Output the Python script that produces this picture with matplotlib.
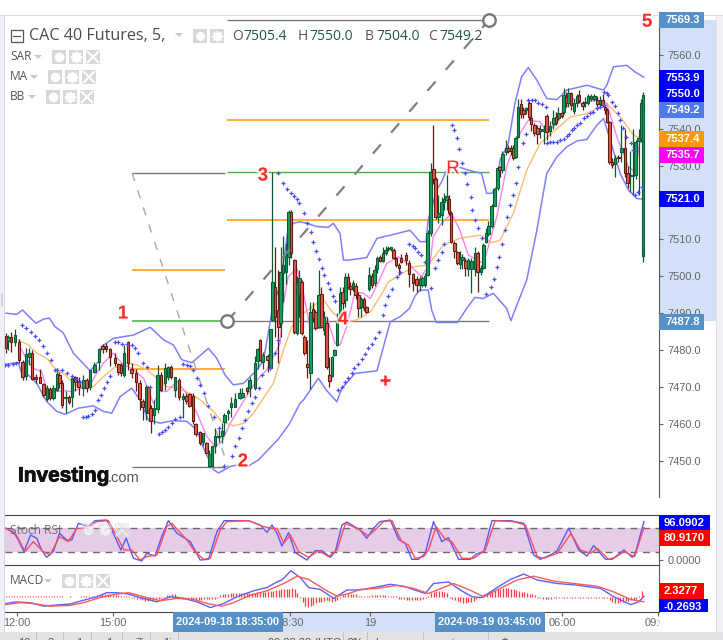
"""CAC 40 Futures 5 minute chart with SAR, MA, BB, Stoch RSI and MACD panes."""

import matplotlib
matplotlib.use("Agg")
import matplotlib.patheffects as pe
import matplotlib.pyplot as plt
import numpy as np
from matplotlib.patches import Polygon, Rectangle

plt.rcParams["font.family"] = ["Liberation Sans", "DejaVu Sans"]

# candles: bar number on the session axis (12:00 is bar 0), open, high, low, close
bar_no = [
    -4.2, -3.2, -2.2, -0.8, 0.7, 2.1, 3.4, 4.6, 5.7, 7.0,
    8.6, 9.9, 11.2, 12.4, 13.6, 14.9, 15.9, 16.9, 18.2, 19.5,
    20.6, 21.9, 23.1, 24.9, 26.1, 27.4, 29.0, 30.7, 32.1, 33.4,
    34.9, 36.7, 38.0, 38.9, 40.1, 41.6, 42.9, 44.6, 45.9, 47.1,
    48.4, 49.2, 50.1, 51.4, 52.7, 53.9, 55.5, 56.5, 57.6, 59.1,
    60.6, 62.1, 63.4, 64.6, 65.9, 66.9, 68.6, 69.6, 70.9, 72.1,
    73.1, 74.2, 75.5, 76.7, 77.7, 79.0, 80.2, 81.7, 83.4, 84.4,
    86.1, 87.1, 89.1, 90.1, 91.1, 92.0, 93.9, 94.9, 95.6, 96.7,
    97.9, 98.7, 99.7, 100.7, 101.7, 102.6, 103.9, 104.8, 105.8, 106.6,
    107.6, 108.8, 109.9, 110.8, 111.8, 113.0, 114.0, 115.0, 116.0, 117.0,
    117.9, 118.9, 119.9, 120.9, 122.0, 123.0, 123.9, 124.9, 125.9, 126.8,
    127.9, 128.9, 129.9, 130.9, 131.9, 132.9, 133.9, 134.9, 135.9, 137.0,
    138.1, 139.1, 140.1, 141.1, 142.0, 143.0, 143.8, 145.7, 146.9, 148.4,
    149.7, 150.9, 151.8, 152.8, 153.8, 154.9, 155.9, 156.8, 157.8, 159.0,
    160.0, 160.9, 161.8, 162.5, 163.8, 164.9, 165.9, 166.8, 167.9, 169.0,
    170.2, 171.5, 172.5, 173.8, 174.7, 175.7, 176.5, 177.8, 178.8, 180.0,
    180.8, 181.8, 183.2, 184.0, 185.0, 185.9, 186.8, 187.7, 188.8, 189.7,
    190.7, 191.9, 192.5, 193.8, 194.9, 195.9, 197.2, 198.4, 199.7, 200.9,
    201.8, 202.8, 204.0, 204.7, 205.7, 206.5, 207.5, 208.7, 209.7, 210.5,
    211.8, 212.8, 213.8, 214.9, 216.2, 217.4, 218.4, 219.3, 220.3, 220.9,
    221.9, 222.9, 224.0, 225.2, 226.4, 227.8, 228.7, 229.7, 230.7, 231.7,
    232.8, 233.7, 234.5,
]
opens = [
    7483.9, 7482.5, 7483.7, 7482.3, 7482.3, 7476.9, 7472.9, 7478.2, 7479.2, 7472.7,
    7472.7, 7470.8, 7466.7, 7469.5, 7467.0, 7469.1, 7473.3, 7471.0, 7466.9, 7467.2,
    7467.2, 7472.7, 7471.7, 7469.7, 7471.9, 7470.1, 7474.2, 7476.9, 7481.2, 7481.2,
    7480.2, 7477.8, 7476.3, 7476.0, 7473.3, 7482.1, 7474.8, 7473.7, 7471.0, 7466.3,
    7463.4, 7469.9, 7464.3, 7462.5, 7464.0, 7473.3, 7471.0, 7472.8, 7475.3, 7469.1,
    7471.8, 7466.7, 7467.6, 7468.2, 7467.6, 7459.9, 7457.7, 7455.0, 7454.9, 7448.6,
    7448.7, 7453.9, 7456.4, 7456.8, 7460.4, 7462.9, 7464.6, 7464.7, 7467.0, 7467.2,
    7469.7, 7469.7, 7469.7, 7477.1, 7482.8, 7476.9, 7478.4, 7475.1, 7488.2, 7497.2,
    7490.9, 7487.3, 7500.8, 7501.3, 7505.3, 7517.5, 7504.4, 7484.6, 7494.9, 7498.5,
    7483.5, 7476.2, 7473.7, 7491.1, 7490.4, 7486.4, 7495.2, 7485.5, 7487.3, 7473.3,
    7473.0, 7478.6, 7481.4, 7488.2, 7495.8, 7493.6, 7499.9, 7497.4, 7497.0, 7497.4,
    7495.0, 7491.6, 7494.0, 7491.6, 7496.7, 7500.1, 7498.1, 7501.9, 7505.3, 7504.2,
    7506.2, 7507.3, 7507.4, 7507.1, 7504.9, 7503.1, 7505.1, 7505.8, 7503.7, 7500.6,
    7499.2, 7497.6, 7497.6, 7497.6, 7500.4, 7511.8, 7529.0, 7526.3, 7516.2, 7516.6,
    7520.2, 7520.7, 7520.9, 7517.2, 7509.1, 7506.7, 7503.3, 7504.4, 7504.2, 7501.9,
    7501.9, 7501.9, 7506.2, 7501.3, 7502.2, 7509.4, 7511.6, 7513.6, 7519.0, 7523.9,
    7529.7, 7528.8, 7533.8, 7534.7, 7534.7, 7534.9, 7532.4, 7537.8, 7546.7, 7545.2,
    7545.1, 7546.9, 7543.0, 7541.0, 7540.1, 7539.5, 7539.5, 7543.4, 7539.5, 7541.4,
    7543.2, 7543.0, 7544.3, 7544.6, 7548.7, 7547.0, 7549.7, 7544.9, 7547.0, 7549.1,
    7547.0, 7546.9, 7547.0, 7548.2, 7548.2, 7547.9, 7546.7, 7547.9, 7546.0, 7545.2,
    7541.9, 7531.0, 7530.4, 7532.4, 7533.8, 7534.7, 7528.1, 7527.2, 7527.2, 7527.4,
    7536.7, 7537.4, 7505.4,
]
highs = [
    7484.6, 7484.2, 7485.0, 7485.7, 7483.0, 7477.4, 7480.5, 7480.5, 7480.0, 7473.5,
    7474.8, 7471.1, 7470.6, 7470.0, 7470.6, 7475.1, 7474.2, 7472.0, 7468.8, 7467.8,
    7472.8, 7473.0, 7472.8, 7473.3, 7472.5, 7474.7, 7476.9, 7480.5, 7481.7, 7482.0,
    7480.5, 7479.2, 7476.6, 7476.5, 7481.4, 7482.6, 7476.5, 7475.0, 7471.9, 7466.8,
    7470.6, 7470.2, 7465.2, 7466.5, 7476.0, 7474.0, 7476.5, 7475.7, 7476.0, 7472.8,
    7472.4, 7468.3, 7468.3, 7468.5, 7468.3, 7460.2, 7458.0, 7457.5, 7455.1, 7453.0,
    7453.9, 7458.9, 7459.0, 7460.2, 7462.9, 7464.0, 7467.4, 7468.3, 7469.7, 7469.7,
    7470.0, 7472.8, 7478.3, 7480.5, 7483.0, 7479.5, 7479.0, 7485.6, 7528.3, 7508.0,
    7501.7, 7508.0, 7511.0, 7509.0, 7518.0, 7518.0, 7504.6, 7500.0, 7501.7, 7499.0,
    7484.0, 7482.7, 7493.1, 7493.1, 7491.0, 7501.7, 7497.2, 7490.7, 7489.0, 7478.2,
    7478.3, 7480.3, 7490.0, 7497.0, 7497.2, 7500.9, 7500.9, 7498.5, 7499.0, 7498.1,
    7495.8, 7494.5, 7494.5, 7492.0, 7502.6, 7501.0, 7503.0, 7505.5, 7505.8, 7508.0,
    7508.2, 7508.3, 7508.0, 7507.6, 7505.2, 7503.5, 7506.0, 7506.5, 7504.5, 7501.0,
    7500.0, 7500.0, 7500.0, 7501.0, 7512.5, 7530.6, 7541.0, 7527.0, 7522.0, 7521.5,
    7522.5, 7528.3, 7522.0, 7517.6, 7509.5, 7507.0, 7507.0, 7506.0, 7505.0, 7505.0,
    7505.0, 7508.0, 7507.0, 7503.0, 7509.0, 7513.0, 7515.0, 7519.5, 7524.0, 7530.0,
    7530.0, 7534.0, 7537.0, 7535.5, 7535.5, 7535.5, 7538.0, 7548.0, 7548.0, 7546.0,
    7546.0, 7547.5, 7543.5, 7541.5, 7541.0, 7541.0, 7541.0, 7544.0, 7542.0, 7545.0,
    7544.5, 7546.0, 7545.0, 7551.0, 7550.0, 7551.0, 7550.0, 7548.0, 7549.5, 7550.5,
    7547.5, 7548.5, 7549.5, 7549.5, 7549.5, 7549.0, 7549.0, 7549.5, 7546.5, 7545.5,
    7542.0, 7532.0, 7533.0, 7533.0, 7541.0, 7540.0, 7530.0, 7534.0, 7540.0, 7537.0,
    7540.0, 7548.0, 7550.0,
]
lows = [
    7479.2, 7480.0, 7479.4, 7481.0, 7476.5, 7472.0, 7471.9, 7476.0, 7471.8, 7471.0,
    7471.0, 7467.3, 7466.3, 7466.5, 7466.5, 7468.8, 7469.7, 7464.3, 7463.1, 7465.5,
    7464.6, 7468.8, 7467.9, 7467.6, 7468.7, 7469.2, 7473.7, 7474.7, 7479.2, 7479.5,
    7475.6, 7475.6, 7473.3, 7473.0, 7472.8, 7474.7, 7472.4, 7468.8, 7463.8, 7461.0,
    7461.1, 7463.0, 7457.5, 7460.0, 7463.0, 7469.0, 7469.2, 7472.0, 7472.2, 7467.4,
    7466.5, 7461.5, 7465.5, 7464.5, 7460.0, 7456.6, 7454.3, 7454.0, 7452.0, 7448.4,
    7448.5, 7452.0, 7455.0, 7454.8, 7457.0, 7461.0, 7462.0, 7464.5, 7466.7, 7467.0,
    7468.0, 7467.4, 7469.2, 7475.0, 7477.0, 7475.0, 7474.0, 7474.5, 7488.0, 7483.6,
    7476.4, 7483.6, 7493.0, 7498.0, 7503.0, 7505.0, 7484.5, 7484.0, 7489.1, 7484.0,
    7478.8, 7472.4, 7469.6, 7487.5, 7485.5, 7486.0, 7486.0, 7484.0, 7475.0, 7470.1,
    7472.8, 7478.3, 7481.0, 7488.0, 7491.0, 7491.8, 7496.5, 7495.0, 7496.0, 7494.0,
    7489.0, 7489.0, 7490.5, 7490.0, 7496.0, 7496.9, 7497.5, 7501.0, 7503.9, 7503.9,
    7505.8, 7506.8, 7506.8, 7504.8, 7502.5, 7500.5, 7503.5, 7503.0, 7497.0, 7496.0,
    7495.8, 7496.0, 7497.0, 7497.0, 7500.0, 7511.0, 7525.0, 7515.5, 7514.5, 7514.0,
    7518.0, 7518.0, 7516.5, 7509.0, 7505.0, 7503.0, 7502.0, 7502.0, 7500.0, 7500.0,
    7495.5, 7500.0, 7495.8, 7500.5, 7502.0, 7509.0, 7511.0, 7513.0, 7519.0, 7523.5,
    7527.0, 7528.0, 7533.0, 7533.5, 7533.0, 7531.5, 7532.0, 7537.5, 7543.0, 7543.0,
    7544.0, 7542.5, 7539.5, 7538.0, 7536.0, 7537.5, 7536.0, 7537.0, 7538.0, 7540.0,
    7541.0, 7542.5, 7543.0, 7544.0, 7546.0, 7546.0, 7545.0, 7544.0, 7546.0, 7547.0,
    7545.0, 7546.0, 7546.5, 7547.5, 7547.5, 7545.0, 7546.0, 7546.0, 7544.0, 7541.5,
    7530.5, 7529.5, 7527.0, 7531.0, 7531.0, 7527.0, 7524.0, 7523.0, 7522.0, 7526.5,
    7522.0, 7536.5, 7504.0,
]
closes = [
    7480.5, 7483.6, 7482.1, 7484.1, 7477.2, 7472.7, 7478.9, 7479.2, 7472.1, 7472.1,
    7471.2, 7467.9, 7469.7, 7467.0, 7469.7, 7473.5, 7471.2, 7465.2, 7467.2, 7466.0,
    7472.4, 7471.5, 7470.1, 7471.9, 7469.7, 7474.5, 7476.0, 7480.3, 7480.3, 7480.3,
    7478.1, 7476.5, 7474.2, 7473.8, 7479.3, 7476.5, 7473.9, 7471.5, 7466.7, 7464.7,
    7469.9, 7463.1, 7460.7, 7464.3, 7473.3, 7469.2, 7475.1, 7475.3, 7472.8, 7472.6,
    7467.3, 7467.6, 7466.1, 7464.9, 7460.7, 7457.3, 7454.8, 7457.5, 7452.1, 7451.8,
    7453.9, 7456.6, 7456.8, 7458.0, 7462.5, 7463.5, 7465.6, 7466.7, 7468.3, 7468.5,
    7468.8, 7471.8, 7476.5, 7480.3, 7477.2, 7478.7, 7477.3, 7485.6, 7498.5, 7489.1,
    7486.2, 7501.3, 7503.1, 7505.8, 7517.5, 7506.4, 7485.0, 7498.1, 7499.5, 7484.6,
    7479.1, 7475.5, 7490.4, 7488.6, 7485.9, 7494.9, 7486.4, 7489.1, 7475.5, 7471.7,
    7478.1, 7480.0, 7488.2, 7495.6, 7492.7, 7499.9, 7497.2, 7496.5, 7498.1, 7495.0,
    7491.3, 7493.8, 7491.3, 7490.4, 7500.4, 7497.6, 7501.7, 7504.9, 7504.2, 7506.2,
    7507.1, 7507.8, 7507.9, 7505.1, 7503.1, 7502.2, 7504.0, 7504.4, 7500.6, 7498.1,
    7497.6, 7499.2, 7499.5, 7500.1, 7511.8, 7528.4, 7526.3, 7516.0, 7517.1, 7520.2,
    7521.1, 7521.8, 7517.2, 7509.4, 7507.0, 7503.7, 7505.1, 7505.3, 7502.2, 7504.4,
    7504.2, 7506.4, 7501.3, 7502.4, 7508.5, 7511.8, 7513.6, 7519.0, 7523.6, 7529.5,
    7528.8, 7533.3, 7534.9, 7534.0, 7534.0, 7532.0, 7537.6, 7546.0, 7544.0, 7544.0,
    7545.5, 7543.2, 7541.3, 7538.9, 7538.7, 7539.9, 7539.9, 7539.2, 7540.7, 7543.0,
    7541.6, 7544.2, 7543.4, 7549.1, 7547.0, 7549.6, 7546.4, 7546.9, 7548.8, 7547.6,
    7546.1, 7547.3, 7548.8, 7548.8, 7548.8, 7546.7, 7547.9, 7546.4, 7545.2, 7541.9,
    7531.0, 7530.2, 7532.0, 7532.0, 7534.9, 7527.9, 7525.4, 7527.5, 7527.6, 7536.5,
    7537.4, 7546.9, 7549.2,
]

# Bollinger bands
bb_upper_bars = [
    -4.1, -0.1, 2.1, 4.2, 7.1, 9.9, 12.1, 14.2, 17.3, 21.1, 27.4, 30.5, 31.7, 36.1, 43.6,
    49.9, 54.9, 58.6, 61.7, 65.5, 71.7, 74.8, 77.9, 81.0, 84.8, 89.8, 92.3, 94.1, 96.0,
    98.5, 101.3, 103.5, 106.0, 108.5, 112.3, 116.6, 118.5, 121.0, 122.3, 124.1, 131.0,
    134.8, 142.3, 147.2, 150.9, 153.2, 154.0, 157.2, 159.0, 160.9, 165.3, 169.0, 174.0,
    175.9, 177.8, 179.7, 180.9, 184.0, 186.5, 189.0, 191.5, 194.7, 198.4, 202.2, 205.9,
    213.4, 219.7, 220.9, 223.4, 228.4, 231.5, 234.7,
]
bb_upper = [
    7490.0, 7489.7, 7490.9, 7489.3, 7487.3, 7488.4, 7488.7, 7486.4, 7484.7, 7479.2, 7474.4,
    7476.9, 7481.0, 7483.2, 7484.1, 7486.2, 7482.8, 7481.4, 7477.4, 7476.6, 7480.5, 7477.8,
    7473.3, 7470.6, 7471.0, 7474.6, 7477.3, 7484.6, 7492.7, 7497.2, 7511.6, 7514.4, 7514.8,
    7514.4, 7513.5, 7513.3, 7514.4, 7511.6, 7504.4, 7504.4, 7505.1, 7510.3, 7511.6, 7512.5,
    7509.4, 7509.4, 7515.3, 7523.4, 7525.6, 7528.8, 7529.7, 7528.8, 7527.9, 7522.5, 7522.5,
    7524.3, 7531.5, 7536.0, 7546.9, 7554.1, 7556.6, 7553.2, 7548.2, 7547.9, 7550.5, 7551.8,
    7550.5, 7551.8, 7556.8, 7557.2, 7555.4, 7554.0,
]
bb_lower_bars = [
    -4.5, 0.5, 1.7, 4.2, 7.4, 11.1, 14.9, 18.0, 23.0, 28.6, 32.4, 35.5, 38.6, 43.0, 46.1,
    49.2, 53.6, 58.6, 63.6, 67.4, 69.9, 73.6, 75.5, 79.9, 83.0, 86.7, 90.5, 98.0, 102.0,
    106.0, 107.3, 112.9, 115.8, 119.8, 121.6, 126.6, 134.8, 139.8, 143.5, 147.0, 149.0,
    150.9, 154.0, 155.3, 157.0, 165.0, 168.4, 171.5, 174.6, 178.4, 183.4, 185.0, 186.5,
    190.9, 194.7, 198.4, 202.2, 205.9, 209.7, 213.4, 217.2, 219.7, 222.2, 225.9, 229.0,
    232.2, 234.4,
]
bb_lower = [
    7476.2, 7476.6, 7473.8, 7473.3, 7471.0, 7466.1, 7463.4, 7462.6, 7464.3, 7464.9, 7463.4,
    7462.9, 7467.4, 7469.7, 7466.5, 7461.1, 7460.2, 7460.9, 7460.7, 7458.4, 7453.4, 7447.6,
    7446.7, 7448.5, 7448.9, 7448.6, 7450.3, 7456.0, 7460.0, 7465.6, 7466.5, 7472.4, 7469.2,
    7466.0, 7469.6, 7473.7, 7474.4, 7487.7, 7489.1, 7491.3, 7494.6, 7496.3, 7496.3, 7490.9,
    7487.5, 7487.5, 7491.3, 7494.3, 7494.0, 7495.4, 7491.3, 7488.0, 7490.9, 7499.0, 7512.5,
    7527.9, 7532.4, 7535.1, 7536.7, 7537.1, 7541.0, 7542.8, 7536.9, 7527.9, 7523.4, 7521.1,
    7520.9,
]

# fast (pink) and slow (orange) moving averages
ma_fast_bars = [
    1.1, 3.0, 6.1, 9.2, 11.7, 14.9, 18.0, 20.5, 24.2, 27.4, 29.9, 32.4, 36.1, 39.2, 43.6,
    47.4, 51.1, 53.6, 56.1, 59.9, 63.6, 67.4, 71.1, 74.2, 76.7, 79.9, 83.6, 87.4, 90.5,
    93.5, 98.5, 99.8, 101.6, 104.8, 107.3, 109.8, 113.5, 116.0, 119.1, 121.0, 123.5, 126.6,
    129.8, 132.3, 134.8, 138.5, 142.9, 147.2, 151.5, 154.7, 155.9, 159.0, 162.8, 165.9,
    169.0, 174.7, 176.5, 179.7, 183.4, 187.2, 191.5, 195.9, 198.4, 202.2, 205.9, 208.4,
    211.5, 217.2, 220.9, 224.7, 229.0, 231.5, 233.4,
]
ma_fast = [
    7481.0, 7478.3, 7475.1, 7474.2, 7467.9, 7468.8, 7469.0, 7468.8, 7469.7, 7470.6, 7473.8,
    7476.5, 7479.2, 7476.5, 7474.7, 7472.4, 7465.6, 7468.8, 7468.8, 7471.5, 7468.3, 7462.9,
    7456.6, 7453.9, 7455.2, 7460.2, 7464.7, 7469.2, 7472.4, 7474.6, 7481.8, 7492.7, 7499.9,
    7502.2, 7495.4, 7485.9, 7485.9, 7489.1, 7481.8, 7481.4, 7486.4, 7495.8, 7495.4, 7494.0,
    7497.6, 7503.5, 7505.3, 7503.0, 7499.9, 7503.5, 7510.7, 7514.4, 7517.0, 7512.5, 7505.8,
    7503.5, 7508.0, 7516.2, 7529.7, 7537.4, 7542.3, 7541.9, 7539.2, 7541.4, 7546.0, 7548.2,
    7546.9, 7547.8, 7546.9, 7537.8, 7529.7, 7528.3, 7536.9,
]
ma_slow_bars = [
    0.5, 4.2, 7.4, 11.1, 14.2, 18.0, 21.7, 26.1, 28.6, 31.7, 36.1, 40.5, 44.9, 48.6, 52.4,
    56.1, 59.9, 64.9, 68.6, 73.6, 76.7, 81.1, 84.9, 88.6, 91.0, 96.0, 99.8, 102.9, 107.3,
    112.3, 114.8, 118.5, 123.5, 127.3, 132.3, 136.0, 139.1, 143.5, 148.4, 154.0, 159.7,
    165.9, 173.4, 177.8, 180.9, 185.9, 190.9, 195.9, 200.9, 207.2, 213.4, 220.9, 225.9,
    230.9, 233.4,
]
ma_slow = [
    7482.8, 7481.4, 7479.2, 7477.8, 7475.1, 7473.3, 7470.6, 7470.1, 7470.1, 7472.4, 7475.1,
    7476.5, 7476.0, 7474.7, 7472.4, 7470.1, 7469.7, 7468.3, 7466.5, 7463.4, 7460.6, 7459.5,
    7460.2, 7462.9, 7465.6, 7471.0, 7480.0, 7486.4, 7490.0, 7492.7, 7493.6, 7490.0, 7487.7,
    7488.2, 7490.4, 7494.5, 7498.5, 7500.4, 7502.6, 7503.0, 7508.5, 7510.3, 7511.2, 7509.1,
    7509.8, 7517.1, 7528.8, 7536.0, 7539.2, 7543.2, 7544.1, 7546.9, 7543.2, 7538.3, 7537.4,
]

# parabolic SAR
sar_bars = [
    -4.5, -3.3, -1.6, -0.2, 1.7, 3.4, 5.1, 6.7, 8.4, 9.9, 11.4, 12.6, 14.2, 15.1, 16.7, 18.6,
    20.5, 22.1, 23.6, 24.9, 25.9, 26.7, 28.0, 29.2, 30.5, 31.4, 32.6, 33.6, 34.9, 36.7, 38.0,
    39.2, 41.1, 43.0, 44.2, 45.5, 47.1, 48.6, 49.9, 53.0, 54.2, 55.5, 56.7, 58.0, 59.2, 61.1,
    62.1, 63.6, 64.9, 66.1, 67.4, 68.6, 69.9, 71.7, 73.6, 75.5, 77.4, 80.5, 81.7, 83.0, 84.2,
    85.5, 86.7, 88.0, 89.2, 90.5, 91.6, 94.8, 96.6, 97.6, 97.9, 99.8, 101.3, 102.5, 103.8,
    104.8, 105.8, 107.6, 108.8, 110.0, 111.0, 111.9, 113.0, 114.1, 115.1, 116.3, 117.3, 118.3,
    119.1, 120.4, 121.6, 122.9, 124.1, 125.4, 126.4, 127.9, 129.1, 130.4, 131.6, 132.9, 134.1,
    135.4, 137.0, 137.9, 138.8, 140.4, 142.3, 143.3, 146.9, 148.2, 149.0, 150.3, 151.5, 152.8,
    154.9, 156.5, 157.8, 159.0, 159.9, 162.8, 163.8, 164.9, 165.7, 166.8, 167.8, 168.7, 169.9,
    170.6, 171.6, 172.8, 174.0, 175.7, 177.4, 178.8, 179.9, 180.4, 181.8, 182.9, 183.7, 184.7,
    185.9, 186.8, 187.8, 189.4, 190.7, 191.5, 193.0, 194.0, 195.3, 196.5, 198.0, 198.4, 199.7,
    200.9, 202.2, 203.4, 204.7, 205.9, 206.8, 207.8, 208.7, 209.7, 210.9, 212.2, 213.4, 214.7,
    215.9, 217.2, 218.4, 219.7, 219.7, 220.9, 221.5, 222.8, 224.0, 225.0, 225.9, 226.9, 228.0,
    229.8, 230.7, 231.5, 232.6, 234.0,
]
sar_values = [
    7476.0, 7476.0, 7476.2, 7476.6, 7486.8, 7486.0, 7485.0, 7483.9, 7482.8, 7481.0, 7479.2,
    7477.4, 7474.7, 7474.7, 7474.7, 7473.8, 7473.1, 7472.1, 7471.5, 7461.8, 7462.0, 7462.2,
    7462.6, 7463.8, 7466.5, 7467.9, 7469.7, 7471.5, 7473.0, 7482.1, 7482.1, 7481.7, 7481.7,
    7481.4, 7480.5, 7479.2, 7476.6, 7475.3, 7470.1, 7457.3, 7457.7, 7458.4, 7459.3, 7460.2,
    7461.3, 7462.0, 7476.2, 7476.0, 7475.6, 7474.7, 7472.4, 7470.6, 7468.3, 7464.9, 7462.0,
    7458.9, 7448.5, 7451.2, 7453.9, 7456.1, 7458.9, 7461.1, 7463.4, 7465.6, 7467.4, 7469.7,
    7473.3, 7475.1, 7479.1, 7482.7, 7527.9, 7525.2, 7523.6, 7522.7, 7521.8, 7520.9, 7520.0,
    7517.3, 7514.5, 7511.9, 7509.2, 7506.9, 7504.6, 7502.4, 7500.4, 7498.3, 7496.5, 7494.7,
    7493.4, 7469.2, 7470.1, 7471.5, 7472.4, 7473.7, 7475.1, 7476.2, 7477.6, 7478.9, 7480.5,
    7481.8, 7483.2, 7485.0, 7489.5, 7492.2, 7494.7, 7496.7, 7499.9, 7501.3, 7508.9, 7508.3,
    7507.6, 7506.7, 7505.8, 7504.0, 7496.9, 7502.2, 7504.4, 7506.7, 7508.9, 7541.0, 7539.6,
    7537.4, 7534.4, 7530.8, 7527.9, 7525.0, 7521.6, 7518.1, 7515.4, 7513.0, 7510.3, 7495.1,
    7497.2, 7499.4, 7502.6, 7505.3, 7508.8, 7512.7, 7516.2, 7519.3, 7522.0, 7525.2, 7529.7,
    7536.2, 7538.5, 7547.8, 7547.9, 7547.9, 7547.0, 7546.6, 7546.0, 7536.2, 7536.3, 7536.3,
    7536.5, 7536.9, 7537.1, 7538.0, 7538.6, 7539.6, 7540.1, 7541.0, 7541.6, 7542.8, 7543.4,
    7544.2, 7544.6, 7545.5, 7546.0, 7546.4, 7550.0, 7549.8, 7549.1, 7547.3, 7546.1, 7544.3,
    7542.5, 7540.1, 7537.7, 7536.1, 7534.2, 7522.0, 7522.9, 7524.2,
]

# Stoch RSI pane
stoch_k_bars = [
    -4.2, -1.4, 0.5, 2.6, 5.1, 7.4, 9.2, 11.1, 13.6, 15.9, 18.6, 20.5, 23.0, 26.7, 29.2, 33.6,
    36.1, 38.9, 40.9, 43.6, 46.7, 48.6, 51.7, 54.2, 56.7, 59.9, 64.9, 68.6, 71.7, 74.9, 77.6,
    86.7, 91.1, 93.6, 95.5, 97.4, 99.2, 101.7, 104.2, 108.6, 111.7, 114.2, 117.4, 119.2, 121.7,
    123.6, 128.5, 131.0, 133.5, 136.0, 139.8, 142.9, 145.4, 147.9, 150.4, 152.9, 156.0, 159.1,
    161.6, 165.4, 169.8, 172.0, 174.8, 177.9, 184.8, 189.8, 193.5, 196.0, 199.8, 202.3, 206.6,
    210.4, 213.5, 216.0, 220.4, 222.9, 227.3, 230.4, 231.6, 234.8,
]
stoch_k = [
    79.2, 70.9, 50.0, 20.9, 62.5, 54.2, 25.0, 6.7, 20.9, 66.7, 50.0, 50.0, 91.7, 83.4, 98.4,
    100.0, 66.7, 25.0, 54.2, 4.2, -2.4, 16.7, 10.0, 58.4, 98.4, 66.7, 45.9, 0.0, 1.7, 70.9,
    98.4, 98.4, 87.5, 69.2, 87.5, 66.7, 35.0, 68.4, 18.4, 0.0, 23.4, 23.4, 6.7, 20.9, 87.5,
    95.0, 75.0, 54.2, 79.2, 95.9, 100.0, 51.7, 41.7, 1.7, 1.7, 16.7, 95.9, 45.9, 55.9, 1.7,
    1.7, 15.0, 20.9, 98.4, 98.4, 91.7, 12.6, 1.7, 12.6, 23.4, 79.2, 25.0, 10.0, 35.9, 1.7,
    1.7, 25.0, 6.7, 16.7, 96.1,
]
stoch_d_bars = [
    -4.2, -0.2, 3.0, 6.1, 9.9, 12.4, 15.9, 19.2, 22.4, 26.1, 29.9, 34.2, 37.4, 40.1, 43.0, 46.1,
    48.6, 52.4, 56.1, 58.0, 63.6, 66.7, 69.9, 72.4, 76.1, 78.6, 86.7, 92.4, 95.5, 97.4, 99.9,
    102.4, 105.5, 109.2, 113.0, 116.7, 119.9, 123.0, 128.5, 131.6, 134.1, 137.3, 140.4, 144.1,
    146.6, 149.1, 152.3, 154.1, 157.0, 160.4, 162.9, 166.6, 171.0, 175.4, 179.1, 186.0, 190.4,
    194.8, 197.3, 202.3, 207.5, 211.0, 214.8, 217.3, 221.6, 224.1, 227.3, 231.3, 234.8,
]
stoch_d = [
    79.2, 62.5, 20.9, 45.9, 20.9, 12.6, 58.4, 45.9, 79.2, 79.2, 95.9, 98.4, 58.4, 25.0, 25.0,
    0.0, 8.4, 12.6, 83.4, 91.7, 50.0, 20.9, 1.7, 4.2, 75.0, 95.9, 98.4, 83.4, 79.2, 79.2, 41.7,
    62.5, 20.9, 6.7, 23.4, 8.4, 25.0, 91.7, 75.0, 60.0, 75.0, 95.9, 98.4, 45.9, 37.5, 4.2, 8.4,
    25.0, 83.4, 51.7, 45.9, 4.2, 4.2, 25.0, 98.4, 95.9, 87.5, 8.4, 4.2, 16.7, 66.7, 25.0, 16.7,
    29.2, 1.7, 6.7, 20.9, 8.4, 80.9,
]

# MACD pane
macd_bars = [
    -4.2, -0.2, 4.9, 9.9, 14.2, 19.9, 24.9, 29.9, 33.6, 37.4, 41.7, 46.1, 52.4, 57.4, 62.4, 67.4,
    72.4, 77.4, 82.4, 88.6, 93.6, 97.4, 99.2, 102.6, 106.1, 109.2, 113.6, 118.6, 123.6, 128.5,
    133.5, 139.8, 144.8, 152.9, 156.0, 161.6, 166.0, 170.4, 174.1, 179.8, 184.8, 189.8, 194.8,
    202.3, 209.8, 218.5, 223.5, 229.8, 232.9, 234.8,
]
macd_line = [
    -2.4, -1.8, -2.1, -3.4, -3.0, -2.6, -1.2, 0.1, 1.6, 1.6, 1.1, -0.2, -1.8, 0.1, -0.5, -1.8,
    -3.9, -2.4, 0.1, 2.3, 3.5, 5.6, 6.3, 9.7, 7.2, 3.5, 2.8, -0.5, 2.6, 2.6, 3.5, 4.7, 4.0, 1.3,
    5.0, 5.6, 2.6, 0.1, -0.2, 3.5, 6.5, 8.5, 6.3, 5.0, 4.4, 3.2, 0.1, -2.8, -1.8, 0.3,
]
signal_bars = [
    -4.2, 1.1, 6.1, 12.4, 19.9, 24.9, 31.1, 36.1, 41.7, 47.4, 53.6, 59.9, 66.1, 71.1, 76.7, 81.1,
    87.4, 93.6, 99.9, 104.9, 109.2, 115.5, 119.9, 124.3, 128.5, 134.8, 142.3, 148.5, 154.1, 163.5,
    169.1, 174.8, 181.0, 187.3, 193.5, 201.0, 208.5, 217.3, 223.5, 229.8, 234.8,
]
signal_line = [
    -2.8, -2.1, -2.4, -3.4, -3.1, -2.1, -0.2, 0.9, 1.6, 0.1, -1.4, -0.5, -0.9, -2.4, -3.4, -2.1,
    0.7, 2.3, 5.0, 7.7, 6.5, 2.6, 0.3, 1.3, 2.8, 3.2, 4.3, 3.2, 1.3, 5.0, 2.8, 0.1, 3.2, 6.3, 7.7,
    5.9, 5.0, 4.0, 1.9, -0.9, -1.8,
]
# one histogram value per bar, starting at bar -4
macd_hist = [
    0.3, 0.4, 0.3, 0.4, 0.3, 0.3, 0.2, 0.2, 0.3, 0.2,
    0.2, 0.2, 0.2, 0.3, 0.2, 0.3, 0.2, 0.3, 0.3, 0.3,
    0.3, 0.3, 0.0, 0.0, 0.3, 0.0, 0.0, 0.0, 0.3, 0.4,
    0.4, 0.4, 0.5, 0.5, 0.7, 0.8, 1.0, 1.0, 1.0, 0.9,
    0.9, 0.8, 0.6, 0.4, 0.3, 0.2, 0.2, -0.3, -0.5, -0.7,
    -0.9, -1.1, -1.3, -1.3, -1.2, -1.0, -0.8, -0.7, -0.5, -0.3,
    0.6, 0.9, 1.1, 1.0, 0.3, -0.5, -0.6, -0.7, -0.8, -0.8,
    -0.9, -1.0, -1.0, -1.0, -0.9, -0.9, -0.8, -0.7, -0.6, -0.5,
    0.8, 1.0, 1.1, 1.2, 1.3, 1.3, 1.4, 1.4, 1.3, 1.3,
    1.5, 1.6, 1.5, 1.5, 1.7, 1.8, 1.9, 2.0, 2.1, 2.3,
    2.4, 2.5, 2.7, 2.8, 2.9, 3.0, 3.1, 3.3, 3.0, 1.6,
    -0.4, -1.8, -3.2, -3.7, -3.4, -2.8, -2.4, -2.0, -1.7, -1.4,
    -1.2, -1.4, -1.8, -1.6, -1.0, -0.5, 0.6, 0.9, 1.1, 1.2,
    1.2, 1.1, 0.5, 0.4, 0.3, 0.3, 0.5, 0.6, 0.6, 0.7,
    0.7, 0.7, 0.6, 0.5, 0.3, 0.2, 0.2, -0.6, -0.8, -0.9,
    -1.0, -1.0, -1.0, -1.0, -1.0, -1.0, -0.9, -0.5, 0.3, 1.6,
    2.0, 2.4, 2.4, 2.2, 1.9, 1.5, -0.4, -0.8, -1.2, -1.6,
    -1.9, -2.1, -2.2, -2.0, -1.8, -1.3, -0.8, -0.3, 0.8, 1.2,
    1.5, 1.8, 2.2, 2.5, 2.8, 3.0, 3.3, 3.5, 3.4, 3.0,
    2.8, 2.6, 2.3, 2.0, 1.7, 1.4, 1.2, 1.0, 0.7, -0.3,
    -0.5, -0.6, -0.6, -0.6, -0.6, -0.5, -0.5, -0.5, -0.4, -0.4,
    -0.4, -0.3, -0.3, -0.3, -0.3, -0.3, -0.2, -0.2, -0.2, -0.2,
    -0.2, -0.2, -0.2, -0.2, -0.2, -0.4, -1.2, -1.8, -2.2, -2.2,
    -2.0, -1.8, -1.6, -1.4, -1.2, -1.1, -0.9, 0.3, 2.33,
]

# drawing tools, in bars and prices
fib_left_span = (43.1, 77.9)
fib_right_span = (78.7, 176.8)
fib_left_grey = [7528.0, 7448.4]
fib_left_orange = [7501.7, 7474.9]
fib_right_orange = [7542.3, 7515.3]
fib_right_green = 7528.3
fib_right_grey = [7569.5, 7487.8]
fib_mid_level = 7488.0
swing_up = ([78.7, 176.8], [7487.8, 7569.5])
swing_down = ([43.1, 79.0], [7528.0, 7448.4])
wave_labels = ["1", "2", "3", "4", "5", "R"]
wave_bars = [39.7, 84.6, 92.1, 122.1, 236.0, 163.3]
wave_prices = [7489.8, 7449.7, 7527.2, 7488.2, 7568.9, 7529.1]

price_ticks = list(range(7450, 7561, 10))
hidden_ticks = [7520, 7550]
time_tick_bars = [0, 36, 102.2, 132.3, 204.1, 240.2]
time_tick_labels = ["12:00", "15:00", "18:30", "19", "06:00", "09:00"]

price_flags = ["7569.3", "7553.9", "7550.0", "7549.2", "7537.4", "7535.7", "7521.0", "7487.8"]
flag_colors = ["#5591c8", "#0000ff", "#0000ff", "#4f78e8", "#ff9800", "#ff00ff", "#0000ff", "#5591c8"]
flag_rows = [12, 70, 86, 102, 131, 147, 191, 314]

UP_FILL, UP_EDGE = "#12a05a", "#0b5a35"
DOWN_FILL, DOWN_EDGE = "#ef5344", "#5c1d12"
BAND_BLUE = "#8080ff"
W, H = 723, 640
X_RANGE = (-4.49, 240.45)


def px_axes(zorder):
    """Full-figure axes in pixel coordinates, y down, for the chart furniture."""
    ax = fig.add_axes([0, 0, 1, 1], zorder=zorder)
    ax.set_xlim(0, W)
    ax.set_ylim(H, 0)
    ax.axis("off")
    ax.patch.set_alpha(0)
    return ax


def pane(top, bottom):
    """Chart pane between two pixel rows."""
    ax = fig.add_axes([5 / W, 1 - bottom / H, 654 / W, (bottom - top) / H], zorder=2)
    ax.patch.set_alpha(0)
    ax.set_xlim(*X_RANGE)
    for side in ("left", "top", "bottom"):
        ax.spines[side].set_visible(False)
    ax.spines["right"].set_color("#555555")
    ax.yaxis.tick_right()
    ax.set_xticks([])
    ax.tick_params(axis="y", colors="#666666", labelsize=7.9, length=3, width=0.8, pad=3)
    return ax


def icon_row(ax, xs, top, size=14, alpha=1.0):
    """Grey eye, gear and close buttons of an indicator legend."""
    glyphs = [("o", 5.5), ((8, 1, 0), 8), ("x", 8)]
    for x, (marker, ms) in zip(xs, glyphs):
        ax.add_patch(Rectangle((x, top), size, size, color="#d8d8d8", lw=0, alpha=alpha))
        ax.plot(x + size / 2, top + size / 2, marker=marker, ms=ms, mfc="white", mec="white",
                mew=1.5, alpha=alpha)


def caret(ax, x, y):
    ax.add_patch(Polygon([(x - 4, y - 2), (x + 4, y - 2), (x, y + 2)], color="#c8c8c8", lw=0))


def draw_candles(ax):
    bars = np.array(bar_no)
    o, h, l, c = map(np.array, (opens, highs, lows, closes))
    up = c >= o
    edges = np.where(up, UP_EDGE, DOWN_EDGE)
    ax.vlines(bars, l, h, colors=edges, lw=0.9, zorder=4)
    ax.bar(bars, np.abs(c - o), bottom=np.minimum(o, c), width=0.95,
           color=np.where(up, UP_FILL, DOWN_FILL), edgecolor=edges, linewidth=0.8, zorder=5)


fig = plt.figure(figsize=(W / 100, H / 100), dpi=100, facecolor="white")

back = px_axes(0)
back.add_patch(Rectangle((0, 15), W, 1.2, color="#d8dbe3", lw=0))
back.add_patch(Rectangle((0, 16), 4, 616, color="#eef0f6", lw=0))
back.add_patch(Rectangle((4, 16), 1, 616, color="#d5d8e0", lw=0))
back.add_patch(Rectangle((1, 293), 2, 13, color="#cfd2d8", lw=0))
back.add_patch(Rectangle((716, 16), 7, 616, color="#f1f2f6", lw=0))
back.add_patch(Rectangle((716, 16), 1, 616, color="#dfe2e9", lw=0))
back.add_patch(Rectangle((659, 20), 57, 301, color="#d2e1f7", lw=0))
back.add_patch(Rectangle((173, 612), 372, 20, color="#d2e1f7", lw=0))
back.add_patch(Rectangle((0, 632), W, 8, color="#e3e3e6", lw=0))
for sep_x in (36, 63, 91, 122, 150, 178, 343, 367, 423, 488):
    back.add_patch(Rectangle((sep_x, 632), 1, 8, color="#c4c4c8", lw=0))
for foot_x, foot in zip((18, 48, 76, 106, 135, 163, 268, 353, 375, 440, 500),
                        ("10a", "3a", "1a", "1m", "7j", "1j", "09:38:38 (UTC+2)", "%", "log",
                         "auto", "⚙")):
    back.text(foot_x, 638, foot, fontsize=8, color="#5f8fa8" if foot == "auto" else "#555555",
              va="top", ha="left", clip_on=True)

# price pane
ax = pane(16, 497)
ax.set_ylim(7440.2, 7570.57)
ax.set_yticks(price_ticks, ["" if p in hidden_ticks else f"{p:.1f}" for p in price_ticks])
ax.plot(bb_upper_bars, bb_upper, color=BAND_BLUE, lw=1.1, zorder=3)
ax.plot(bb_lower_bars, bb_lower, color=BAND_BLUE, lw=1.1, zorder=3)
ax.plot(ma_slow_bars, ma_slow, color="#ffbd70", lw=1, zorder=3)
ax.plot(ma_fast_bars, ma_fast, color="#ff85ee", lw=1, zorder=3)
ax.plot(sar_bars, sar_values, ls="", marker="+", ms=3.4, mew=0.9, color="#4a4aff", zorder=6)
draw_candles(ax)

ax.hlines(fib_left_grey, *fib_left_span, color="#7a7a7a", lw=1, zorder=2)
ax.hlines(fib_left_orange, *fib_left_span, color="#ff9800", lw=1.1, zorder=2)
ax.hlines(fib_mid_level, fib_left_span[0], 79.0, color="#3fb53f", lw=1.1, zorder=2)
ax.hlines(fib_right_orange, *fib_right_span, color="#ff9800", lw=1.1, zorder=2)
ax.hlines(fib_right_green, *fib_right_span, color="#3fb53f", lw=1, zorder=2)
ax.hlines(fib_right_grey, *fib_right_span, color="#7a7a7a", lw=1, zorder=2)
ax.plot(*swing_up, color="#808080", lw=1.6, dashes=(5.5, 7), zorder=6)
ax.plot(*swing_down, color="#a8a8a8", lw=1, dashes=(6, 7), zorder=2)
ax.plot(*swing_up, ls="", marker="o", ms=9, mfc="white", mec="#777777", mew=1.7, zorder=7,
        clip_on=False)
for label, bar, price in zip(wave_labels, wave_bars, wave_prices):
    ax.text(bar, price, label, color="#ff2a2a", fontsize=13.5, ha="center", va="center",
            fontweight="normal" if label == "R" else "bold", zorder=8,
            path_effects=[pe.withStroke(linewidth=3, foreground="white", alpha=0.75)])
ax.plot(137.8, 7471.9, marker="+", ms=7, mew=1.8, color="#ff2a2a", zorder=8)

# Stoch RSI pane
stoch = pane(515, 565)
stoch.set_ylim(-12.5, 112.5)
stoch.set_yticks([0], ["0.0000"])
stoch.spines["top"].set_color("#444444")
stoch.spines["top"].set_visible(True)
stoch.axhspan(20, 80, color="#e5cde8", lw=0)
stoch.axhline(80, color="#6a6a6a", lw=1, dashes=(5, 4))
stoch.axhline(20, color="#6a6a6a", lw=1, dashes=(5, 4))
stoch.plot(stoch_k_bars, stoch_k, color="#5a5aff", lw=1)
stoch.plot(stoch_d_bars, stoch_d, color="#ff4d5e", lw=1)

# MACD pane
macd = pane(565, 612)
macd.set_ylim(-5.55, 11.85)
macd.set_yticks([])
macd.spines["top"].set_visible(True)
macd.spines["top"].set_color("#444444")
macd.spines["bottom"].set_visible(True)
macd.spines["bottom"].set_color("#444444")
macd.vlines(np.arange(len(macd_hist)) - 4, 0, macd_hist, color="#ff3b3b", lw=0.9)
macd.plot(macd_bars, macd_line, color="#6060ff", lw=1)
macd.plot(signal_bars, signal_line, color="#ff5a5a", lw=1)
macd.set_xticks(time_tick_bars, time_tick_labels)
macd.tick_params(axis="x", colors="#666666", labelsize=7.9, length=3, width=0.8, pad=1.5)

# legends, price flags and date flags on top of the panes
top = px_axes(10)
top.add_patch(Rectangle((659.5, 612.5), 40, 19, color="white", lw=0))
top.add_patch(Rectangle((10.5, 29.5), 12, 12, fill=False, ec="#555555", lw=0.9))
top.plot([13, 20], [35.5, 35.5], color="#555555", lw=0.9)
top.text(29, 36, "CAC 40 Futures, 5,", fontsize=11.6, color="#4c4c4c", va="center",
         family=["Open Sans", "DejaVu Sans"])
caret(top, 179, 35)
for x in (193, 210):
    top.add_patch(Rectangle((x, 29), 14, 14, color="#d8d8d8", lw=0))
top.plot(200, 36, marker="o", ms=5.5, mfc="white", mec="white")
top.plot(217, 36, marker=(8, 1, 0), ms=8, mfc="white", mec="white")
for x_head, head, value in zip((232, 298, 365, 428), "OHBC",
                               ("7505.4", "7550.0", "7504.0", "7549.2")):
    top.text(x_head, 36, head, fontsize=10, color="#555555", va="center",
             family=["Open Sans", "DejaVu Sans"])
    top.text(x_head + 11, 36, value, fontsize=10, color="#1f5c3d", va="center",
             family=["Open Sans", "DejaVu Sans"])

for name, row, caret_x, xs in (("SAR", 57, 38, (52, 69, 86)), ("MA", 77, 34, (48, 65, 82)),
                               ("BB", 97, 32, (46, 63, 80))):
    top.text(10, row, name, fontsize=8.6, color="#555555", va="center",
             family=["Open Sans", "DejaVu Sans"])
    caret(top, caret_x, row)
    icon_row(top, xs, row - 7)

top.text(10, 530, "Stoch RSI", fontsize=8.6, color="#555555", va="center", alpha=0.8,
         family=["Open Sans", "DejaVu Sans"])
icon_row(top, (81, 98, 115), 523, alpha=0.5)
top.text(10, 581, "MACD", fontsize=8.6, color="#555555", va="center",
         family=["Open Sans", "DejaVu Sans"])
caret(top, 48, 581)
icon_row(top, (62, 79, 96), 574)

for text, color, row in zip(price_flags, flag_colors, flag_rows):
    top.add_patch(Rectangle((659, row), 45, 16, color=color, lw=0))
    top.text(665, row + 8, text, fontsize=8.1, color="white", va="center", fontweight="bold")
for text, color, row, width in (("96.0902", "#0000ff", 515, 51), ("80.9170", "#ff0000", 530, 51),
                                ("2.3277", "#ff0000", 583, 45), ("-0.2693", "#0000ff", 599, 49)):
    height = 13 if row == 599 else 16
    top.add_patch(Rectangle((659, row), width, height, color=color, lw=0))
    top.text(664, row + 8, text, fontsize=8.1, color="white", va="center", fontweight="bold")
for x_box, text in ((173, "2024-09-18 18:35:00"), (435, "2024-09-19 03:45:00")):
    top.add_patch(Rectangle((x_box, 612), 110, 20, color="#5591c8", lw=0))
    top.text(x_box + 55, 622, text, fontsize=7.9, color="white", va="center", ha="center",
             fontweight="bold")

top.text(18, 476, "Investing", fontsize=15, fontweight="bold", color="#111111", va="center",
         path_effects=[pe.withStroke(linewidth=0.6, foreground="#111111")])
top.text(108, 478, ".com", fontsize=10.5, color="#555555", va="center")
top.plot(80, 466.5, marker="o", ms=2.6, color="#f5a623", mew=0)

fig.savefig("out.png", dpi=100)
